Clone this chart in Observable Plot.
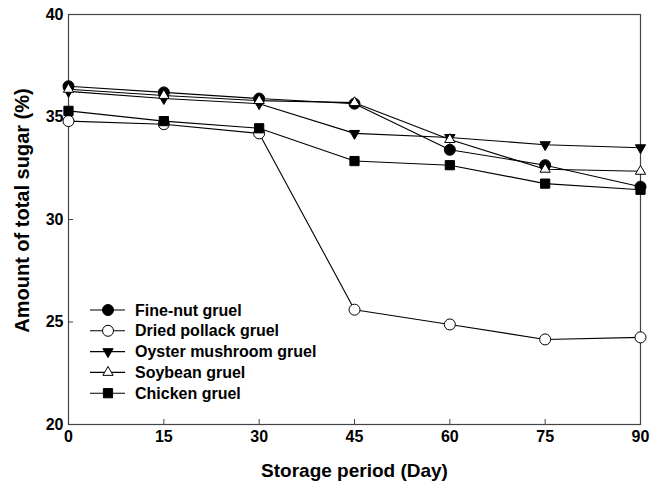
<!DOCTYPE html>
<html>
<head>
<meta charset="utf-8">
<script src="https://cdn.jsdelivr.net/npm/d3@7"></script>
<script src="https://cdn.jsdelivr.net/npm/@observablehq/plot@0.6"></script>
<style>
  body { margin: 0; background: #fff; }
  #chart { position: relative; width: 661px; height: 489px; }
</style>
</head>
<body>
<div id="chart"></div>
<script>
const days = [0, 15, 30, 45, 60, 75, 90];
const seriesNames = ["Fine-nut gruel", "Dried pollack gruel", "Oyster mushroom gruel", "Soybean gruel", "Chicken gruel"];
const fineNut = [36.5, 36.2, 35.9, 35.65, 33.4, 32.65, 31.6];
const driedPollack = [34.8, 34.65, 34.2, 25.6, 24.88, 24.15, 24.25];
const oysterMushroom = [36.25, 35.9, 35.65, 34.2, 34.0, 33.65, 33.5];
const soybean = [36.35, 36.05, 35.8, 35.7, 33.9, 32.45, 32.35];
const chicken = [35.3, 34.8, 34.45, 32.85, 32.65, 31.75, 31.45];
const xTicks = [0, 15, 30, 45, 60, 75, 90];
const yTicks = [20, 25, 30, 35, 40];

const values = [fineNut, driedPollack, oysterMushroom, soybean, chicken];
const styles = [
  {symbol: "circle", fill: "black", r: 5.5, rotate: 0},
  {symbol: "circle", fill: "white", r: 5.5, rotate: 0},
  {symbol: "triangle", fill: "black", r: 3.8, rotate: 180},
  {symbol: "triangle", fill: "white", r: 3.8, rotate: 0},
  {symbol: "square", fill: "black", r: 5.2, rotate: 0}
];

const table = [];
seriesNames.forEach((name, i) => {
  days.forEach((d, j) => table.push({series: name, day: d, value: values[i][j]}));
});

const W = 661, H = 489, mL = 68, mR = 21, mT = 14, mB = 65;
const frameW = W - mL - mR, frameH = H - mT - mB;

const marks = [
  Plot.tickX(xTicks.slice(1, -1), {x: d => d, stroke: "#444", insetTop: frameH - 5}),
  Plot.tickY(yTicks.slice(1, -1), {y: d => d, stroke: "#444", insetRight: frameW - 5}),
  Plot.frame({stroke: "#444", strokeWidth: 1.2}),
  Plot.line(table, {x: "day", y: "value", z: "series", stroke: "black", strokeWidth: 1.1})
];
seriesNames.forEach((name, i) => {
  const s = styles[i];
  marks.push(Plot.dot(table.filter(d => d.series === name), {
    x: "day", y: "value", symbol: s.symbol, r: s.r, fill: s.fill,
    stroke: "black", strokeWidth: 1, rotate: s.rotate
  }));
});
marks.push(
  Plot.text(["Storage period (Day)"], {text: d => d, frameAnchor: "bottom", dy: 46, fontSize: 19, fontWeight: "bold", lineAnchor: "middle", textAnchor: "middle"}),
  Plot.text(["Amount of total sugar (%)"], {text: d => d, frameAnchor: "left", dx: -46, dy: -9, rotate: -90, fontSize: 20, fontWeight: "bold", lineAnchor: "middle", textAnchor: "middle"})
);

const svg = Plot.plot({
  width: W, height: H,
  marginLeft: mL, marginRight: mR, marginTop: mT, marginBottom: mB,
  style: {fontFamily: "'Liberation Sans', Arial, sans-serif", fontWeight: "bold", fontSize: "16px", color: "#000", background: "#fff"},
  x: {domain: [0, 90], ticks: xTicks, tickSize: 0, tickPadding: 6, label: null, tickFormat: d => String(d)},
  y: {domain: [20, 40], ticks: yTicks, tickSize: 0, tickPadding: 5, label: null, tickFormat: d => String(d)},
  marks
});

document.getElementById("chart").appendChild(svg);

// legend
const lg = d3.select(svg).append("g")
  .attr("font-family", "'Liberation Sans', Arial, sans-serif")
  .attr("font-weight", "bold").attr("font-size", 16)
  .attr("text-anchor", "start");
seriesNames.forEach((name, i) => {
  const s = styles[i];
  const y = 310 + i * 20.8;
  lg.append("line").attr("x1", 90).attr("x2", 125).attr("y1", y).attr("y2", y).attr("stroke", "black").attr("stroke-width", 1.1);
  const sym = s.symbol === "circle" ? d3.symbolCircle : s.symbol === "square" ? d3.symbolSquare : d3.symbolTriangle;
  lg.append("path")
    .attr("d", d3.symbol(sym, Math.PI * s.r * s.r)())
    .attr("transform", `translate(108,${y}) rotate(${s.rotate})`)
    .attr("fill", s.fill).attr("stroke", "black").attr("stroke-width", 1);
  lg.append("text").attr("x", 135).attr("y", y).attr("dy", "0.35em").attr("text-anchor", "start").text(name);
});
</script>
</body>
</html>
